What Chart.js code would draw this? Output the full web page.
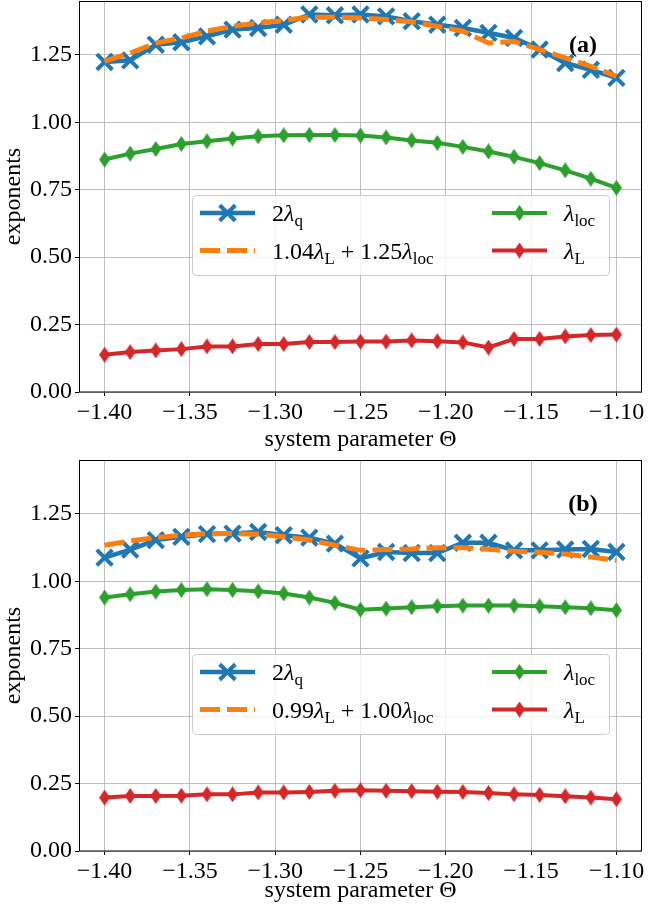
<!DOCTYPE html>
<html>
<head>
<meta charset="utf-8">
<script src="https://cdn.jsdelivr.net/npm/chart.js@4/dist/chart.umd.min.js"></script>
<style>
  html, body { margin: 0; padding: 0; background: #fff; }
  canvas { display: block; }
</style>
</head>
<body>
<canvas id="panelA" width="648" height="453"></canvas>
<canvas id="panelB" width="648" height="453"></canvas>
<script>
// system parameter Theta (same grid for both panels)
var theta = [-1.400, -1.385, -1.370, -1.355, -1.340, -1.325, -1.310, -1.295, -1.280, -1.265, -1.250,
             -1.235, -1.220, -1.205, -1.190, -1.175, -1.160, -1.145, -1.130, -1.115, -1.100];

// panel (a)
var a2LamQ = [1.224, 1.230, 1.288, 1.297, 1.319, 1.344, 1.350, 1.362, 1.400, 1.397, 1.400,
              1.393, 1.375, 1.362, 1.350, 1.332, 1.313, 1.270, 1.220, 1.195, 1.165];
var aFit   = [1.226, 1.257, 1.294, 1.313, 1.338, 1.356, 1.369, 1.378, 1.390, 1.390, 1.387,
              1.381, 1.373, 1.356, 1.338, 1.294, 1.300, 1.270, 1.239, 1.208, 1.171];
var aLamLoc = [0.862, 0.884, 0.901, 0.920, 0.930, 0.940, 0.948, 0.952, 0.953, 0.953, 0.951,
               0.944, 0.933, 0.924, 0.909, 0.892, 0.872, 0.849, 0.822, 0.791, 0.757];
var aLamL  = [0.138, 0.148, 0.154, 0.159, 0.169, 0.169, 0.178, 0.178, 0.185, 0.185, 0.187,
              0.187, 0.191, 0.188, 0.184, 0.165, 0.197, 0.197, 0.206, 0.211, 0.213];

// panel (b)
var b2LamQ = [1.088, 1.118, 1.153, 1.165, 1.175, 1.177, 1.183, 1.171, 1.162, 1.140, 1.085,
              1.109, 1.105, 1.105, 1.143, 1.143, 1.115, 1.115, 1.118, 1.120, 1.109];
var bFit   = [1.134, 1.150, 1.162, 1.171, 1.177, 1.177, 1.175, 1.165, 1.153, 1.134, 1.115,
              1.118, 1.120, 1.125, 1.125, 1.119, 1.112, 1.108, 1.101, 1.090, 1.078];
var bLamLoc = [0.940, 0.952, 0.962, 0.968, 0.971, 0.968, 0.963, 0.955, 0.940, 0.920, 0.895,
               0.899, 0.904, 0.908, 0.910, 0.910, 0.910, 0.908, 0.904, 0.900, 0.893];
var bLamL  = [0.198, 0.204, 0.204, 0.205, 0.210, 0.210, 0.217, 0.217, 0.219, 0.223, 0.225,
              0.223, 0.222, 0.220, 0.219, 0.215, 0.210, 0.208, 0.203, 0.198, 0.192];

// labels ('_' starts a subscript)
var labelsA = ['2λ_q', '1.04λ_L + 1.25λ_loc', 'λ_loc', 'λ_L'];
var labelsB = ['2λ_q', '0.99λ_L + 1.00λ_loc', 'λ_loc', 'λ_L'];
var xTicks = [-1.40, -1.35, -1.30, -1.25, -1.20, -1.15, -1.10];
var yTicks = [0.00, 0.25, 0.50, 0.75, 1.00, 1.25];

var SERIF = "'Liberation Serif', 'DejaVu Serif', serif";
var BLUE = '#1f77b4', ORANGE = '#ff7f0e', GREEN = '#2ca02c', RED = '#d62728';

// thin diamond marker like matplotlib 'd'
function thinDiamond(color) {
  var c = document.createElement('canvas');
  c.width = 11; c.height = 16;
  var g = c.getContext('2d');
  g.fillStyle = color;
  g.beginPath();
  g.moveTo(5.5, 0); g.lineTo(11, 8); g.lineTo(5.5, 16); g.lineTo(0, 8);
  g.closePath();
  g.fill();
  return c;
}
var diamondGreen = thinDiamond(GREEN);
var diamondRed = thinDiamond(RED);

function drawMath(ctx, text, x, y) {
  var i = 0;
  ctx.textAlign = 'left';
  ctx.textBaseline = 'alphabetic';
  while (i < text.length) {
    var ch = text[i];
    if (ch === '_') {
      var j = i + 1;
      while (j < text.length && /[a-z]/i.test(text[j])) j++;
      var sub = text.slice(i + 1, j);
      ctx.font = '17px ' + SERIF;
      ctx.fillText(sub, x, y + 5);
      x += ctx.measureText(sub).width;
      i = j;
      continue;
    }
    ctx.font = (ch === 'λ' ? 'italic ' : '') + '24px ' + SERIF;
    ctx.fillText(ch, x, y);
    x += ctx.measureText(ch).width;
    i++;
  }
}

var framePlugin = {
  id: 'framePlugin',
  afterDatasetsDraw: function(chart, args, opts) {
    var ctx = chart.ctx, a = chart.chartArea;
    ctx.save();
    // legend box
    var lx = a.left + 113, ly = a.top + 194, lw = 417, lh = 80;
    ctx.fillStyle = 'rgba(255,255,255,0.8)';
    ctx.strokeStyle = '#cccccc';
    ctx.lineWidth = 1;
    ctx.beginPath();
    ctx.roundRect(lx + 0.5, ly + 0.5, lw, lh, 4);
    ctx.fill();
    ctx.stroke();
    chart.data.datasets.forEach(function(ds, i) {
      var col = Math.floor(i / 2), row = i % 2;
      var hx0 = lx + 8 + col * 292, hx1 = hx0 + 55;
      var cy = ly + 18 + row * 37.5;
      ctx.save();
      ctx.strokeStyle = ds.borderColor;
      ctx.lineWidth = ds.borderWidth;
      ctx.setLineDash(ds.borderDash || []);
      ctx.beginPath();
      ctx.moveTo(hx0, cy); ctx.lineTo(hx1, cy);
      ctx.stroke();
      ctx.setLineDash([]);
      var mx = (hx0 + hx1) / 2;
      if (ds.pointStyle === 'crossRot') {
        var d = ds.pointRadius * Math.SQRT1_2;
        ctx.lineWidth = ds.pointBorderWidth;
        ctx.beginPath();
        ctx.moveTo(mx - d, cy - d); ctx.lineTo(mx + d, cy + d);
        ctx.moveTo(mx - d, cy + d); ctx.lineTo(mx + d, cy - d);
        ctx.stroke();
      } else if (ds.pointStyle && ds.pointStyle.width) {
        ctx.drawImage(ds.pointStyle, mx - ds.pointStyle.width / 2, cy - ds.pointStyle.height / 2);
      }
      ctx.restore();
      ctx.fillStyle = '#000';
      drawMath(ctx, ds.label, hx0 + 72, cy + 8);
    });
    // panel tag
    ctx.fillStyle = '#000';
    ctx.font = 'bold 24px ' + SERIF;
    ctx.textAlign = 'center';
    ctx.textBaseline = 'middle';
    ctx.fillText(opts.tag, a.right - 59, a.top + 45);
    // frame
    ctx.strokeStyle = '#000';
    ctx.lineWidth = 1;
    ctx.strokeRect(Math.round(a.left) + 0.5, Math.round(a.top) + 0.5,
                   Math.round(a.right - a.left) - 1, Math.round(a.bottom - a.top) - 0.5);
    ctx.restore();
  }
};

function fmt(v) {
  return (v < 0 ? '\u2212' : '') + Math.abs(v).toFixed(2);
}

function makeChart(id, labels, q, fit, loc, L, tag, padTop, xHeight, titlePad) {
  var pts = function(arr) { return theta.map(function(t, i) { return {x: t, y: arr[i]}; }); };
  return new Chart(document.getElementById(id), {
    type: 'line',
    data: {
      datasets: [
        { label: labels[0], data: pts(q), borderColor: BLUE, backgroundColor: BLUE, borderWidth: 4.5,
          pointStyle: 'crossRot', pointRadius: 11, pointBorderWidth: 4, pointBorderColor: BLUE, order: 3 },
        { label: labels[1], data: pts(fit), borderColor: ORANGE, borderWidth: 5, borderDash: [20, 7],
          pointRadius: 0, order: 2 },
        { label: labels[2], data: pts(loc), borderColor: GREEN, borderWidth: 4,
          pointStyle: diamondGreen, pointRadius: 8, order: 1 },
        { label: labels[3], data: pts(L), borderColor: RED, borderWidth: 4,
          pointStyle: diamondRed, pointRadius: 8, order: 0 }
      ]
    },
    options: {
      responsive: false,
      animation: false,
      devicePixelRatio: 1,
      layout: { autoPadding: false, padding: { top: padTop, right: 6, left: 0, bottom: 0 } },
      plugins: {
        legend: { display: false },
        tooltip: { enabled: false },
        framePlugin: { tag: tag }
      },
      scales: {
        x: {
          type: 'linear',
          min: -1.415, max: -1.085,
          afterBuildTicks: function(s) { s.ticks = xTicks.map(function(v) { return {value: v}; }); },
          afterFit: function(s) { s.height = xHeight; s.paddingLeft = 0; s.paddingRight = 0; },
          grid: { color: '#b0b0b0', lineWidth: 0.8, tickLength: 4, tickColor: '#000', tickWidth: 1 },
          border: { display: false },
          ticks: { color: '#000', font: { family: SERIF, size: 24 }, padding: 2, maxRotation: 0,
                   autoSkip: false, callback: function(v) { return fmt(v); } },
          title: { display: true, text: 'system parameter Θ', color: '#000',
                   font: { family: SERIF, size: 24, lineHeight: 1 }, padding: { top: 0, bottom: titlePad } }
        },
        y: {
          min: 0, max: 1.45,
          afterBuildTicks: function(s) { s.ticks = yTicks.map(function(v) { return {value: v}; }); },
          afterFit: function(s) { s.width = 79; s.paddingTop = 0; s.paddingBottom = 0; },
          grid: { color: '#b0b0b0', lineWidth: 0.8, tickLength: 4, tickColor: '#000', tickWidth: 1 },
          border: { display: false },
          ticks: { color: '#000', font: { family: SERIF, size: 24 }, padding: 3,
                   callback: function(v) { return v.toFixed(2); } },
          title: { display: true, text: 'exponents', color: '#000',
                   font: { family: SERIF, size: 24, lineHeight: 1 }, padding: { top: 2, bottom: 0 } }
        }
      }
    },
    plugins: [framePlugin]
  });
}

makeChart('panelA', labelsA, a2LamQ, aFit, aLamLoc, aLamL, '(a)', 1, 61, 1);
makeChart('panelB', labelsB, b2LamQ, bFit, bLamLoc, bLamL, '(b)', 7, 55, 3);
</script>
</body>
</html>
